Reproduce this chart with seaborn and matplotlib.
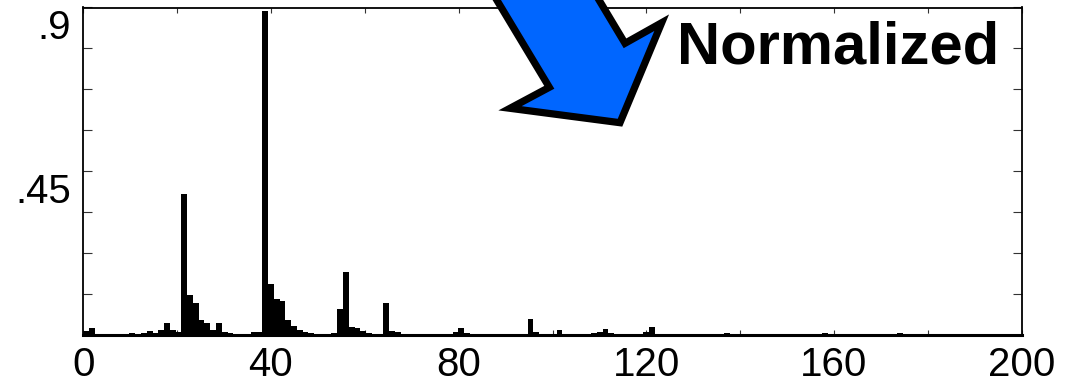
import numpy as np
import pandas as pd
import matplotlib
matplotlib.use("Agg")
import matplotlib.pyplot as plt
import matplotlib.transforms as mtransforms
from matplotlib.patches import Polygon
from matplotlib.ticker import FixedLocator
import seaborn as sns

# ---- data ----
BIN_W = 1.23
channels = [0, 1, 8, 10, 11, 12, 13, 14, 15, 16, 17, 18, 19, 20, 21, 22, 23, 24, 25,
            29, 30, 31, 32, 33, 34, 35, 36, 37, 38, 39, 40, 43, 44, 45, 46, 47, 48, 49,
            52, 53, 54, 55, 64, 65, 66, 76, 77, 78, 82, 88, 89, 90, 91, 97, 98, 111, 128, 141]
values = [0.010, 0.017, 0.004, 0.004, 0.009, 0.004, 0.012, 0.032, 0.012, 0.007, 0.386,
          0.109, 0.086, 0.040, 0.031, 0.012, 0.031, 0.008, 0.003,
          0.008, 0.007, 0.890, 0.139, 0.098, 0.091, 0.040, 0.023, 0.012, 0.008, 0.004, 0.002,
          0.003, 0.070, 0.171, 0.022, 0.017, 0.010, 0.004,
          0.0875, 0.009, 0.006, 0.002, 0.008, 0.017, 0.003, 0.002, 0.043, 0.006, 0.012,
          0.004, 0.008, 0.014, 0.005, 0.007, 0.020, 0.005, 0.004, 0.004]
x_ticks_major = [0, 40, 80, 120, 160, 200]
x_ticks_minor = [20, 60, 100, 140, 180]
y_ticks_major = [0.45, 0.9]
y_tick_labels = [".45", ".9"]
y_ticks_minor = [0.1125, 0.225, 0.3375, 0.5625, 0.675, 0.7875]
annotation_text = "Normalized"

df = pd.DataFrame({"x": (np.array(channels) + 0.5) * BIN_W, "w": values})

sns.set_style("white")
plt.rcParams["font.family"] = ["Liberation Sans", "DejaVu Sans"]

W, H = 1077, 382
fig = plt.figure(figsize=(W / 100, H / 100), dpi=100)
ax = fig.add_axes([83.3 / W, 47.5 / H, (1021.7 - 83.3) / W, (334.5 - 7.5) / H])

sns.histplot(data=df, x="x", weights="w", binwidth=BIN_W, binrange=(0, 163 * BIN_W),
             color="black", alpha=1, edgecolor="black", linewidth=0, ax=ax)

ax.set_xlim(0, 200)
ax.set_ylim(0, 0.9)
ax.set_xlabel("")
ax.set_ylabel("")

ax.xaxis.set_major_locator(FixedLocator(x_ticks_major))
ax.xaxis.set_minor_locator(FixedLocator(x_ticks_minor))
ax.set_xticklabels([str(v) for v in x_ticks_major])
ax.yaxis.set_major_locator(FixedLocator(y_ticks_major))
ax.yaxis.set_minor_locator(FixedLocator(y_ticks_minor))
ax.set_yticklabels(y_tick_labels)

ax.tick_params(axis="x", which="both", direction="in", top=True, bottom=True,
               length=3.5, width=0.8, color="#333333", labelsize=29, pad=8,
               labelcolor="black")
ax.tick_params(axis="y", which="both", direction="in", left=True, right=True,
               length=6.5, width=0.8, color="#333333", labelsize=29, pad=9,
               labelcolor="black")

offset = mtransforms.ScaledTranslation(0, -17 / 100, fig.dpi_scale_trans)
for lab in ax.get_yticklabels():
    lab.set_transform(lab.get_transform() + offset)

for side in ["left", "right", "top"]:
    ax.spines[side].set_linewidth(1.3)
    ax.spines[side].set_color("black")
ax.spines["bottom"].set_linewidth(2.2)
ax.spines["bottom"].set_color("black")

# blue block arrow (pixel coords, origin top-left)
arrow_px = [(478.7, -30), (549.3, 87.3), (510, 108.3), (620, 122.7),
            (661.7, 22.7), (625, 43.3), (581, -30)]
arrow_fig = [(x / W, 1 - y / H) for x, y in arrow_px]
poly = Polygon(arrow_fig, closed=True, transform=fig.transFigure,
               facecolor="#0066ff", edgecolor="black", linewidth=5.2,
               joinstyle="miter", clip_on=False, zorder=10)
fig.patches.append(poly)

fig.text(677 / W, 1 - 64 / H, annotation_text, fontsize=43, fontweight="bold",
         ha="left", va="baseline", color="black", zorder=11)

fig.savefig("out.png", dpi=100)
